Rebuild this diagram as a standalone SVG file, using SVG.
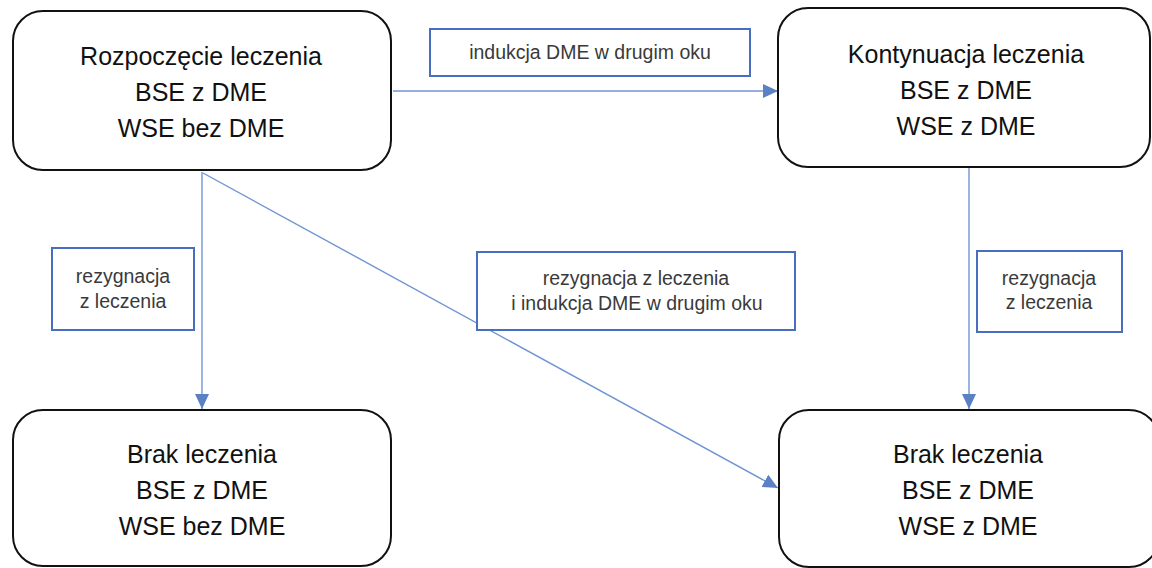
<svg xmlns="http://www.w3.org/2000/svg" width="1152" height="568" viewBox="0 0 1152 568">
<defs>
<marker id="ah" viewBox="0 0 15 14" refX="15" refY="7" markerWidth="15" markerHeight="14" markerUnits="userSpaceOnUse" orient="auto">
<path d="M0,0 L15,7 L0,14 Z" fill="#5B80C4"/>
</marker>
<style>
.node rect{fill:#fff;stroke:#111;stroke-width:2}
.node text{font-family:"Liberation Sans",Arial,sans-serif;font-size:25px;fill:#111;text-anchor:middle}
.lbl rect{fill:#fff;stroke:#4A6EBF;stroke-width:2}
.lbl text{font-family:"Liberation Sans",Arial,sans-serif;font-size:19.5px;fill:#3a3a3a;text-anchor:middle}
.conn line{stroke:#6F95D2;stroke-width:1.4;fill:none;marker-end:url(#ah)}
</style>
</defs>
<rect width="1152" height="568" fill="#fff"/>
<g id="connectors" class="conn">
<line x1="393" y1="91" x2="778" y2="91"/>
<line x1="202" y1="172" x2="202" y2="409"/>
<line x1="203" y1="173" x2="778" y2="488"/>
<line x1="969" y1="168" x2="969" y2="409"/>
</g>
<g id="n1" class="node">
<rect x="13" y="11" width="378" height="159" rx="30"/>
<text x="201" y="65">Rozpoczęcie leczenia</text>
<text x="201" y="101">BSE z DME</text>
<text x="201" y="137">WSE bez DME</text>
</g>
<g id="n2" class="node">
<rect x="778" y="8" width="372" height="159" rx="30"/>
<text x="966" y="63">Kontynuacja leczenia</text>
<text x="966" y="99">BSE z DME</text>
<text x="966" y="135">WSE z DME</text>
</g>
<g id="n3" class="node">
<rect x="13" y="410" width="378" height="156" rx="30"/>
<text x="202" y="463">Brak leczenia</text>
<text x="202" y="499">BSE z DME</text>
<text x="202" y="535">WSE bez DME</text>
</g>
<g id="n4" class="node">
<rect x="779" y="410" width="380" height="157" rx="30"/>
<text x="968" y="463">Brak leczenia</text>
<text x="968" y="499">BSE z DME</text>
<text x="968" y="535">WSE z DME</text>
</g>
<g id="l1" class="lbl">
<rect x="430" y="29" width="320" height="47"/>
<text x="590" y="59">indukcja DME w drugim oku</text>
</g>
<g id="l2" class="lbl">
<rect x="52" y="248" width="142" height="82"/>
<text x="123" y="283">rezygnacja</text>
<text x="123" y="308">z leczenia</text>
</g>
<g id="l3" class="lbl">
<rect x="477" y="252" width="318" height="78"/>
<text x="636" y="285">rezygnacja z leczenia</text>
<text x="637" y="310">i indukcja DME w drugim oku</text>
</g>
<g id="l4" class="lbl">
<rect x="977" y="251" width="145" height="81"/>
<text x="1049" y="285">rezygnacja</text>
<text x="1049" y="309">z leczenia</text>
</g>
</svg>
